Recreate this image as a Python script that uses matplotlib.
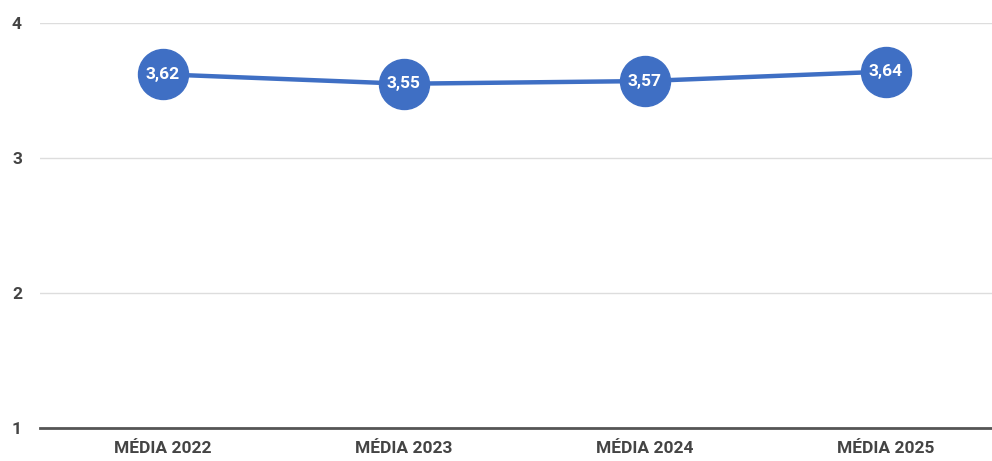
import matplotlib.pyplot as plt

# values
categories = ["MÉDIA 2022", "MÉDIA 2023", "MÉDIA 2024", "MÉDIA 2025"]
medias = [3.62, 3.55, 3.57, 3.64]
y_ticks = [1, 2, 3, 4]

blue = "#3f6fc4"
plt.rcParams['font.family'] = ['Roboto', 'DejaVu Sans']

fig = plt.figure(figsize=(9.92, 4.61), dpi=100)
ax = fig.add_axes([40 / 992, 33 / 461, 952 / 992, 405 / 461])

x = list(range(len(categories)))
ax.plot(x, medias, color=blue, linewidth=3.2, marker="o", markersize=36,
        markerfacecolor=blue, markeredgecolor=blue, zorder=3)
for xi, v in zip(x, medias):
    ax.text(xi, v, f"{v:.2f}".replace(".", ","), color="white", ha="center",
            va="center", fontsize=12.5, fontweight="bold", zorder=4)

ax.set_ylim(1, 4)
ax.set_xlim(-0.51, 3.44)
ax.set_yticks(y_ticks)
ax.set_yticklabels([str(t) for t in y_ticks])
ax.set_xticks(x)
ax.set_xticklabels(categories)

ax.grid(axis="y", color="#dddddd", linewidth=1)
ax.set_axisbelow(True)
for s in ["top", "right", "left"]:
    ax.spines[s].set_visible(False)
ax.spines["bottom"].set_color("#555555")
ax.spines["bottom"].set_linewidth(2)
ax.tick_params(axis="both", length=0, colors="#444444")
ax.tick_params(axis="y", pad=13, labelsize=12.5)
ax.tick_params(axis="x", pad=9, labelsize=12.5)
for lbl in ax.get_xticklabels() + ax.get_yticklabels():
    lbl.set_fontweight("bold")

fig.savefig("out.png", dpi=100)
